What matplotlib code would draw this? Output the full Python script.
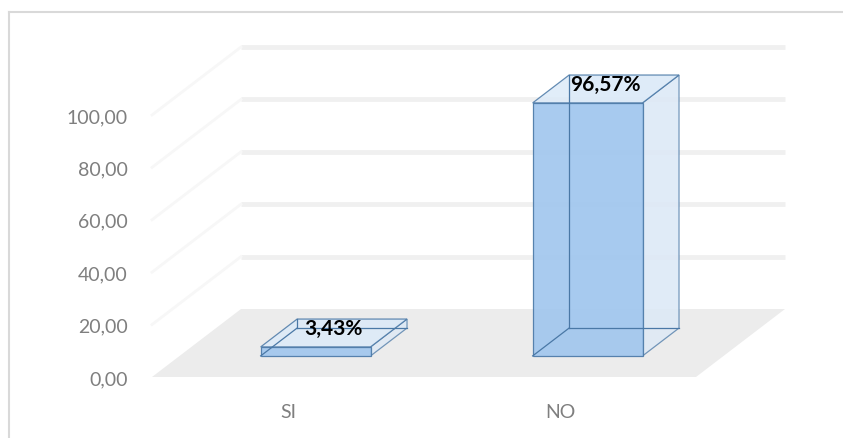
import matplotlib.pyplot as plt
from matplotlib.patches import Polygon
from matplotlib.lines import Line2D

categories = ["SI", "NO"]
values = [3.43, 96.57]
value_labels = ["3,43%", "96,57%"]
y_ticks = [0, 20, 40, 60, 80, 100]

plt.rcParams["font.family"] = ["Lato", "DejaVu Sans"]

# simple oblique projection: depth z in [0, 1] shifts right and up
DX = 89 / 272
DV = 68 / 2.62
BAR_W = 0.404
Z1, Z2 = 0.31, 0.72


def proj(x, v, z):
    return (x + z * DX, v + z * DV)


fig = plt.figure(figsize=(8.43, 4.39), dpi=100)
ax = fig.add_axes([140 / 843, 0, 1 - 140 / 843, 1])
ax.set_xlim((140 - 288) / 272, (843 - 288) / 272)
ax.set_ylim((378 - 439) / 2.62, 378 / 2.62)
for s in ax.spines.values():
    s.set_visible(False)

# floor
x0, x1 = -0.5, len(categories) - 0.5
floor = [proj(x0, 0, 0), proj(x1, 0, 0), proj(x1, 0, 1), proj(x0, 0, 1)]
ax.add_patch(Polygon(floor, closed=True, facecolor="#ececec", edgecolor="none", zorder=1))

# back wall and side wall gridlines
for t in y_ticks[1:]:
    a, b = proj(x0, t, 1), proj(x1, t, 1)
    ax.plot([a[0], b[0]], [a[1], b[1]], color="#f0f0f0", lw=3.5, zorder=1,
            solid_capstyle="butt")
    c = proj(x0, t, 0)
    ax.plot([c[0], a[0]], [c[1], a[1]], color="#f7f7f7", lw=2, zorder=1)

edge = "#4a78a6"
for i, v in enumerate(values):
    l, r = i - BAR_W / 2, i + BAR_W / 2
    back = [proj(l, 0, Z2), proj(r, 0, Z2), proj(r, v, Z2), proj(l, v, Z2)]
    right = [proj(r, 0, Z1), proj(r, 0, Z2), proj(r, v, Z2), proj(r, v, Z1)]
    top = [proj(l, v, Z1), proj(r, v, Z1), proj(r, v, Z2), proj(l, v, Z2)]
    front = [proj(l, 0, Z1), proj(r, 0, Z1), proj(r, v, Z1), proj(l, v, Z1)]
    ax.add_patch(Polygon(back, facecolor="#dbe8f6", alpha=0.5, edgecolor="none", zorder=2))
    # hidden edges show through the glassy box
    for p, q in [(proj(l, 0, Z1), proj(l, 0, Z2)), (proj(l, 0, Z2), proj(r, 0, Z2)),
                 (proj(l, 0, Z2), proj(l, v, Z2))]:
        ax.add_line(Line2D([p[0], q[0]], [p[1], q[1]], color=edge, lw=0.9, zorder=5))
    ax.add_patch(Polygon(right, facecolor="#dde9f6", alpha=0.75, edgecolor=edge, lw=0.9, zorder=3))
    ax.add_patch(Polygon(top, facecolor="#dceaf8", alpha=0.85, edgecolor=edge, lw=0.9, zorder=3))
    ax.add_patch(Polygon(front, facecolor="#a0c6ee", alpha=0.9, edgecolor=edge, lw=0.9, zorder=4))
    cx, cy = proj(i, v, (Z1 + Z2) / 2)
    ax.text(cx, cy + 2, value_labels[i], ha="center", va="center", fontsize=15,
            fontweight="bold", color="black", zorder=6)
    ax.text(i, -13, categories[i], ha="center", va="center", fontsize=14, color="#7f7f7f")

ax.set_xticks([])
ax.set_yticks(y_ticks)
ax.set_yticklabels([f"{t:.2f}".replace(".", ",") for t in y_ticks], fontsize=14, color="#7f7f7f")
ax.tick_params(axis="y", length=0, pad=9)

# chart area border
fig.add_artist(Line2D([9 / 843, 9 / 843], [0, 1 - 13 / 439], color="#d9d9d9", lw=1.5))
fig.add_artist(Line2D([9 / 843, 1], [1 - 13 / 439, 1 - 13 / 439], color="#d9d9d9", lw=1.5))

fig.savefig("out.png", dpi=100)
